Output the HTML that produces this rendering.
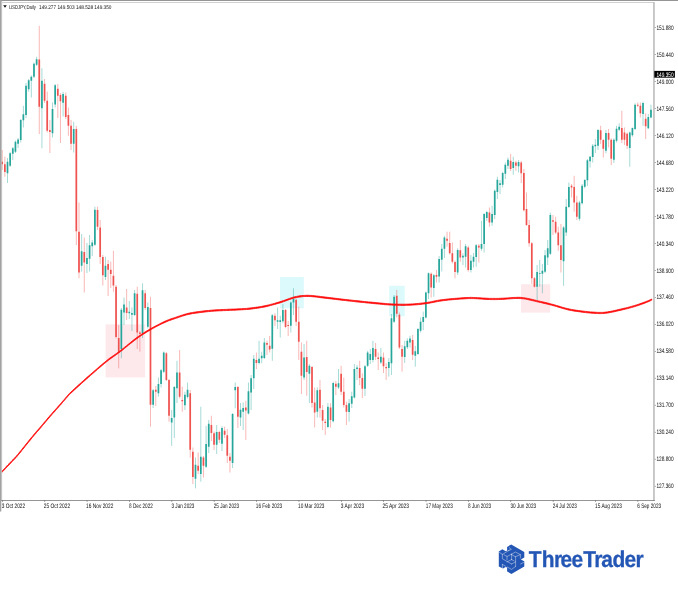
<!DOCTYPE html>
<html lang="en"><head><meta charset="utf-8"><title>USDJPY Daily - ThreeTrader</title>
<style>html,body{margin:0;padding:0;background:#fff}body{width:678px;height:600px;overflow:hidden;font-family:"Liberation Sans",sans-serif}svg{display:block}</style>
</head><body>
<svg width="678" height="600" viewBox="0 0 678 600" text-rendering="geometricPrecision">
<g id="zones">
<rect x="105.6" y="324.4" width="39.5" height="53" fill="#fde8ec"/>
<rect x="280" y="277" width="23.8" height="31.3" fill="#dcf9fc"/>
<rect x="389.2" y="285.8" width="15.5" height="30.5" fill="#dcf9fc"/>
<rect x="521" y="284.3" width="29.2" height="28.3" fill="#fde8ec"/>
</g>
<g id="candles" fill="none">
<path stroke="#26a69a" stroke-width="0.42" d="M7.50 158.0V183.0M10.14 152.0V167.0M12.79 147.0V160.0M15.44 140.5V153.0M18.09 138.0V148.0M20.74 119.0V142.5M23.38 105.8V127.5M26.03 83.0V118.0M28.68 79.0V91.7M31.33 75.5V97.5M33.98 62.5V78.0M36.62 56.7V66.0M41.92 68.3V148.3M52.51 102.5V137.5M55.16 84.0V107.5M63.10 91.7V116.5M73.70 121.7V152.5M81.64 234.0V271.7M86.94 243.0V273.0M89.58 235.0V271.5M92.23 240.0V256.0M94.88 206.7V246.0M105.47 256.7V280.0M121.36 308.0V358.3M124.01 297.5V325.0M129.30 301.0V319.0M131.95 307.5V331.0M134.60 290.0V316.0M142.54 283.3V338.0M147.84 302.5V328.5M153.14 389.0V408.0M158.43 377.5V396.7M161.08 369.0V387.5M163.73 351.5V373.0M171.67 410.0V445.8M174.32 386.0V438.0M176.97 360.8V403.0M184.91 391.7V410.0M187.56 382.5V398.5M195.50 457.5V488.3M200.80 406.7V481.7M206.10 425.8V468.0M208.74 420.0V453.0M216.69 425.0V454.0M221.98 426.3V451.0M232.58 413.0V468.0M235.22 382.5V408.3M240.52 403.0V426.0M243.17 402.5V430.0M248.46 382.5V414.5M251.11 375.0V410.0M253.76 355.0V389.0M259.06 340.8V364.5M261.70 351.7V363.3M264.35 338.0V359.0M272.30 314.0V360.8M277.59 307.5V329.0M280.24 315.8V337.5M282.89 304.0V323.3M290.83 301.5V332.5M293.48 288.3V315.0M304.07 344.0V380.0M309.37 364.0V403.0M317.31 387.5V417.5M327.90 403.0V428.3M333.20 381.7V422.5M338.50 369.0V389.0M349.09 399.0V421.7M351.74 391.7V408.0M354.38 364.0V398.5M357.03 365.0V380.0M364.98 365.0V396.0M367.62 350.8V367.0M370.27 349.0V364.0M372.92 340.8V362.5M380.86 348.0V364.0M388.81 358.0V376.7M391.46 314.0V375.0M394.10 295.0V323.0M404.70 340.8V363.0M407.34 338.3V349.0M409.99 335.8V347.5M415.29 345.8V366.7M417.94 328.0V355.0M420.58 317.5V332.5M423.23 311.7V330.0M425.88 291.5V318.5M428.53 272.5V299.0M433.82 274.0V296.7M439.12 256.0V282.5M441.77 244.0V271.5M444.42 235.8V258.0M457.66 248.3V275.0M462.95 253.3V265.0M465.60 244.0V267.5M470.90 255.0V272.5M473.54 253.0V267.5M476.19 244.0V266.7M481.49 220.8V250.8M484.14 213.0V252.5M486.78 210.8V220.8M492.08 205.8V225.8M494.73 189.5V219.0M497.38 176.7V199.0M500.02 180.0V194.0M502.67 171.7V187.5M505.32 162.5V179.0M507.97 157.5V169.0M513.26 156.7V174.7M518.56 160.0V172.5M537.10 265.0V300.0M539.74 260.0V286.7M542.39 264.0V293.3M545.04 250.0V273.0M547.69 240.0V265.0M550.34 212.5V255.0M563.58 226.0V285.8M566.22 199.0V236.0M568.87 182.5V208.0M579.46 200.8V220.8M582.11 184.0V204.5M584.76 179.0V188.3M587.41 159.0V186.0M590.06 155.8V167.5M592.70 144.0V162.5M595.35 139.0V153.0M598.00 129.0V150.0M605.94 130.0V153.3M613.89 138.3V163.0M616.54 125.8V142.5M619.18 123.3V131.0M629.78 131.5V166.7M632.42 127.5V136.7M635.07 103.3V130.0M643.02 101.7V125.8M648.31 114.0V129.2M650.96 104.7V118.3"/>
<path stroke="#ef5350" stroke-width="0.42" d="M2.20 150.0V170.0M4.85 156.7V176.7M39.27 25.8V134.0M44.57 79.0V103.0M47.22 91.7V132.5M49.86 120.0V153.0M57.81 84.0V118.0M60.46 93.0V143.0M65.75 92.5V119.0M68.40 107.5V135.8M71.05 120.0V150.0M76.34 125.8V245.0M78.99 202.5V278.3M84.29 237.5V292.5M97.53 206.7V230.0M100.18 220.0V264.0M102.82 255.0V285.5M108.12 260.0V296.0M110.77 261.7V288.0M113.42 250.8V291.7M116.06 285.0V338.5M118.71 325.0V368.3M126.66 289.0V320.0M137.25 286.7V349.0M139.90 331.0V351.7M145.19 290.0V310.0M150.49 296.7V426.7M155.78 386.0V406.0M166.38 352.0V381.0M169.02 379.0V421.7M179.62 350.0V398.5M182.26 386.7V411.7M190.21 390.0V457.5M192.86 447.5V484.0M198.15 452.5V474.0M203.45 456.0V477.5M211.39 415.8V441.0M214.04 431.5V450.0M219.34 430.8V443.0M224.63 426.7V438.0M227.28 429.0V463.0M229.93 453.0V472.5M237.87 386.0V428.0M245.82 400.8V440.0M256.41 352.5V369.0M267.00 340.8V355.0M269.65 336.0V352.5M274.94 313.3V326.0M285.54 309.0V328.3M288.18 321.0V336.0M296.13 298.5V326.0M298.78 306.7V360.0M301.42 342.5V394.0M306.72 340.8V395.8M312.02 366.0V407.5M314.66 387.5V427.5M319.96 380.0V417.5M322.61 405.0V430.0M325.26 419.0V435.0M330.55 403.3V427.5M335.85 381.0V395.0M341.14 365.8V395.0M343.79 377.5V407.5M346.44 401.7V425.0M359.68 360.8V385.0M362.33 373.3V398.0M375.57 343.0V360.0M378.22 352.5V370.0M383.51 352.5V373.0M386.16 363.3V380.0M396.75 290.0V317.5M399.40 312.5V349.0M402.05 345.0V371.7M412.64 335.0V360.0M431.18 272.5V297.5M436.47 270.0V282.5M447.06 231.7V246.7M449.71 231.7V254.5M452.36 242.5V263.5M455.01 260.5V278.3M460.30 240.0V261.7M468.25 245.8V271.7M478.84 244.0V262.5M489.43 207.5V226.7M510.62 154.0V171.0M515.91 160.8V170.8M521.21 160.8V183.0M523.86 169.0V211.5M526.50 192.5V226.0M529.15 220.0V246.7M531.80 242.0V284.0M534.45 277.0V287.5M552.98 215.0V235.0M555.63 216.7V234.0M558.28 226.7V250.8M560.93 224.0V272.5M571.52 184.0V197.5M574.17 175.8V211.7M576.82 195.8V220.0M600.65 125.8V144.0M603.30 139.0V157.5M608.59 129.0V147.5M611.24 138.3V165.0M621.83 110.8V143.0M624.48 127.5V145.0M627.13 132.5V149.0M637.72 102.5V107.0M640.37 102.5V117.5M645.66 113.3V139.0"/>
<path stroke="#26a69a" stroke-width="1.7" d="M7.50 161.7V173.3M10.14 153.3V165.8M12.79 148.3V153.7M15.44 141.7V151.7M18.09 139.5V143.7M20.74 120.0V140.0M23.38 114.2V120.3M26.03 85.8V115.0M28.68 80.3V89.2M31.33 76.7V80.8M33.98 63.7V76.7M36.62 59.2V64.7M41.92 80.8V108.3M52.51 109.0V133.3M55.16 85.3V104.5M63.10 94.0V102.8M73.70 129.0V143.7M81.64 251.3V265.8M86.94 258.0V264.0M89.58 245.3V258.7M92.23 242.5V246.3M94.88 209.7V244.7M105.47 265.8V277.0M121.36 309.7V349.0M124.01 304.5V312.5M129.30 311.7V313.3M131.95 313.0V314.7M134.60 293.3V315.0M142.54 290.3V333.3M147.84 307.0V326.7M153.14 390.3V404.7M158.43 384.0V393.3M161.08 370.3V384.0M163.73 352.5V371.7M171.67 418.0V422.5M174.32 387.0V417.5M176.97 372.5V388.3M184.91 394.7V405.3M187.56 389.7V397.0M195.50 464.7V478.7M200.80 456.7V474.0M206.10 444.0V466.7M208.74 423.7V446.7M216.69 432.0V444.7M221.98 428.0V443.7M232.58 414.0V463.0M235.22 387.0V390.3M240.52 409.7V417.5M243.17 408.0V411.7M248.46 391.3V413.5M251.11 378.3V392.5M253.76 358.7V378.3M259.06 358.7V363.0M261.70 355.8V358.3M264.35 342.5V358.0M272.30 315.3V348.8M277.59 320.3V321.7M280.24 320.3V322.0M282.89 310.0V321.3M290.83 302.5V325.8M293.48 299.0V302.5M304.07 357.5V377.5M309.37 365.8V373.7M317.31 390.3V411.7M327.90 406.7V427.0M333.20 383.0V421.3M338.50 383.3V387.5M349.09 403.3V412.0M351.74 396.3V403.7M354.38 369.0V397.5M357.03 367.5V369.0M364.98 366.3V388.7M367.62 352.5V365.8M370.27 354.0V360.0M372.92 348.0V360.0M380.86 356.7V362.5M388.81 362.0V368.0M391.46 318.3V363.3M394.10 296.7V321.7M404.70 346.3V357.0M407.34 340.8V347.3M409.99 338.5V342.5M415.29 351.3V355.8M417.94 329.0V354.0M420.58 321.7V330.8M423.23 317.0V322.0M425.88 292.5V317.5M428.53 273.3V293.3M433.82 275.3V288.0M439.12 259.0V276.5M441.77 248.7V259.7M444.42 237.5V248.7M457.66 250.0V272.5M462.95 255.8V257.5M465.60 246.3V256.7M470.90 260.8V270.0M473.54 256.7V261.7M476.19 245.3V257.0M481.49 244.0V248.7M484.14 214.0V244.0M486.78 212.0V218.0M492.08 214.0V222.5M494.73 190.8V215.0M497.38 179.7V192.0M500.02 183.3V185.0M502.67 173.0V184.7M505.32 164.7V173.7M507.97 159.7V165.8M513.26 162.0V168.0M518.56 162.0V166.3M537.10 272.0V286.7M539.74 273.0V273.8M542.39 270.8V273.7M545.04 255.3V271.7M547.69 248.3V257.5M550.34 215.0V253.7M563.58 227.5V261.3M566.22 206.7V232.5M568.87 187.0V207.0M579.46 202.5V218.7M582.11 185.8V203.3M584.76 180.0V186.7M587.41 160.3V180.3M590.06 156.7V161.3M592.70 145.8V157.0M595.35 144.7V146.3M598.00 130.0V145.8M605.94 133.0V150.8M613.89 139.7V159.7M616.54 128.7V140.8M619.18 126.7V129.7M629.78 132.5V148.0M632.42 128.0V135.3M635.07 104.7V129.0M643.02 103.0V114.0M648.31 117.0V128.3M650.96 109.7V117.5"/>
<path stroke="#ef5350" stroke-width="1.7" d="M2.20 161.7V164.2M4.85 164.2V172.0M39.27 59.5V106.7M44.57 83.8V100.8M47.22 100.8V130.8M49.86 130.0V132.0M57.81 88.7V95.8M60.46 95.0V101.3M65.75 95.8V117.0M68.40 115.0V125.8M71.05 125.8V143.7M76.34 129.0V231.3M78.99 231.7V272.5M84.29 252.0V262.5M97.53 210.0V226.7M100.18 227.5V257.0M102.82 257.0V275.3M108.12 264.0V269.7M110.77 269.7V274.0M113.42 275.8V285.5M116.06 286.7V337.0M118.71 338.0V351.7M126.66 307.5V313.0M137.25 293.7V332.5M139.90 332.5V334.0M145.19 293.3V308.0M150.49 308.0V404.7M155.78 389.7V391.7M166.38 353.3V380.0M169.02 380.0V415.8M179.62 372.5V396.7M182.26 400.0V401.3M190.21 393.3V449.7M192.86 451.7V477.0M198.15 465.8V470.8M203.45 457.5V465.8M211.39 425.0V433.0M214.04 433.3V444.7M219.34 432.0V439.7M224.63 430.8V434.7M227.28 435.3V455.8M229.93 456.7V460.8M237.87 387.0V416.7M245.82 407.5V410.5M256.41 360.0V363.0M267.00 343.0V344.8M269.65 345.8V349.5M274.94 315.8V320.3M285.54 310.0V327.0M288.18 325.0V326.0M296.13 299.7V321.7M298.78 321.7V341.7M301.42 351.7V375.8M306.72 357.0V372.0M312.02 367.0V403.0M314.66 402.5V412.5M319.96 389.7V408.3M322.61 410.0V420.8M325.26 421.7V423.0M330.55 407.5V420.0M335.85 383.7V386.7M341.14 373.7V391.7M343.79 391.7V405.0M346.44 405.0V411.7M359.68 368.0V378.0M362.33 378.0V388.7M375.57 349.0V356.7M378.22 357.5V359.0M383.51 357.5V366.3M386.16 367.0V368.3M396.75 295.8V313.7M399.40 314.7V347.5M402.05 349.0V356.7M412.64 340.0V354.7M431.18 273.7V287.5M436.47 275.0V276.7M447.06 238.7V240.8M449.71 243.0V253.3M452.36 253.3V261.7M455.01 262.0V272.0M460.30 250.3V257.5M468.25 247.5V270.0M478.84 245.8V247.5M489.43 212.5V222.5M510.62 160.8V169.0M515.91 162.5V165.8M521.21 162.5V173.3M523.86 173.0V210.3M526.50 209.0V225.0M529.15 225.0V243.3M531.80 243.3V278.2M534.45 278.2V286.7M552.98 220.3V221.8M555.63 221.7V232.5M558.28 232.5V245.3M560.93 245.3V260.0M571.52 185.8V187.5M574.17 187.0V202.5M576.82 202.5V216.7M600.65 130.3V139.7M603.30 140.0V148.7M608.59 133.0V139.7M611.24 139.7V158.7M621.83 128.0V139.7M624.48 132.5V139.7M627.13 133.7V145.8M637.72 104.7V105.8M640.37 105.8V113.3M645.66 118.7V126.3"/>
</g>
<path id="ma" d="M2.0 471.1 L2.6 470.5 L3.5 469.6 L4.5 468.5 L5.6 467.4 L6.7 466.1 L7.9 464.9 L9.0 463.8 L10.0 462.7 L10.9 461.8 L11.7 460.9 L12.5 460.1 L13.3 459.3 L14.1 458.5 L14.9 457.6 L15.8 456.7 L16.7 455.6 L17.7 454.5 L18.7 453.3 L19.7 452.0 L20.8 450.7 L21.8 449.4 L22.9 448.0 L24.0 446.7 L25.0 445.4 L26.0 444.1 L27.1 442.9 L28.1 441.6 L29.1 440.3 L30.2 439.0 L31.2 437.7 L32.3 436.5 L33.3 435.2 L34.3 434.0 L35.4 432.7 L36.4 431.5 L37.5 430.3 L38.6 429.1 L39.6 427.9 L40.7 426.6 L41.7 425.4 L42.7 424.2 L43.8 423.0 L44.8 421.7 L45.9 420.5 L46.9 419.3 L47.9 418.0 L49.0 416.8 L50.0 415.6 L51.1 414.4 L52.1 413.2 L53.2 412.0 L54.3 410.7 L55.4 409.5 L56.4 408.4 L57.4 407.3 L58.3 406.2 L59.1 405.3 L59.9 404.4 L60.7 403.5 L61.4 402.8 L62.0 402.0 L62.7 401.2 L63.4 400.4 L64.2 399.5 L64.9 398.7 L65.5 397.9 L66.1 397.2 L66.8 396.4 L67.5 395.6 L68.4 394.6 L69.4 393.5 L70.8 392.1 L72.5 390.5 L74.4 388.7 L76.6 386.7 L79.0 384.6 L81.4 382.4 L83.8 380.3 L86.2 378.1 L88.5 376.1 L90.7 374.2 L93.0 372.2 L95.3 370.2 L97.6 368.2 L99.8 366.2 L102.0 364.4 L104.2 362.6 L106.2 360.9 L108.1 359.4 L109.9 358.0 L111.7 356.8 L113.4 355.6 L115.1 354.4 L116.8 353.2 L118.5 351.9 L120.4 350.5 L122.4 349.0 L124.4 347.4 L126.5 345.7 L128.6 344.0 L130.7 342.3 L132.8 340.6 L134.8 339.0 L136.7 337.6 L138.5 336.3 L140.2 335.2 L141.8 334.0 L143.4 333.0 L145.0 332.0 L146.6 331.0 L148.3 330.0 L150.0 329.0 L151.8 328.0 L153.7 326.9 L155.6 325.9 L157.6 324.9 L159.5 323.9 L161.4 322.9 L163.3 322.0 L165.0 321.2 L166.6 320.5 L168.2 319.9 L169.6 319.3 L171.1 318.8 L172.5 318.3 L173.9 317.9 L175.3 317.4 L176.7 316.9 L178.2 316.4 L179.6 315.9 L181.1 315.4 L182.5 315.0 L183.9 314.5 L185.4 314.1 L186.8 313.7 L188.3 313.3 L189.7 313.0 L191.2 312.7 L192.6 312.5 L194.0 312.2 L195.5 312.0 L197.0 311.8 L198.5 311.6 L200.0 311.4 L201.6 311.2 L203.2 311.0 L204.9 310.8 L206.7 310.6 L208.4 310.5 L210.1 310.3 L211.7 310.2 L213.3 310.0 L214.8 309.9 L216.3 309.8 L217.8 309.7 L219.2 309.7 L220.7 309.6 L222.1 309.5 L223.5 309.5 L225.0 309.4 L226.5 309.4 L227.9 309.3 L229.3 309.2 L230.8 309.2 L232.2 309.1 L233.7 309.1 L235.2 309.0 L236.7 308.9 L238.3 308.8 L239.9 308.8 L241.5 308.7 L243.1 308.6 L244.8 308.5 L246.5 308.4 L248.2 308.2 L250.0 308.0 L251.8 307.8 L253.6 307.6 L255.5 307.3 L257.4 307.1 L259.3 306.8 L261.2 306.5 L263.1 306.1 L265.0 305.7 L266.9 305.3 L268.8 304.9 L270.6 304.4 L272.5 303.9 L274.4 303.4 L276.2 302.8 L278.1 302.3 L280.0 301.7 L281.9 301.1 L283.8 300.5 L285.7 299.8 L287.6 299.1 L289.5 298.4 L291.4 297.7 L293.2 297.2 L295.0 296.7 L296.7 296.4 L298.4 296.0 L300.0 295.8 L301.5 295.6 L303.1 295.5 L304.8 295.4 L306.5 295.3 L308.3 295.3 L310.2 295.4 L312.2 295.5 L314.3 295.7 L316.4 296.0 L318.6 296.2 L320.7 296.5 L322.9 296.8 L325.0 297.0 L327.1 297.3 L329.2 297.5 L331.3 297.8 L333.4 298.0 L335.5 298.3 L337.6 298.5 L339.6 298.8 L341.7 299.0 L343.8 299.3 L345.8 299.5 L347.8 299.7 L349.8 299.9 L351.9 300.2 L353.9 300.4 L355.9 300.6 L358.0 300.8 L360.1 301.0 L362.2 301.3 L364.3 301.5 L366.5 301.7 L368.6 301.9 L370.8 302.1 L372.9 302.3 L375.0 302.5 L377.1 302.7 L379.2 302.9 L381.3 303.1 L383.4 303.3 L385.5 303.5 L387.5 303.7 L389.6 303.8 L391.7 303.9 L393.8 304.0 L395.9 304.1 L397.9 304.2 L400.0 304.2 L402.1 304.2 L404.1 304.2 L406.2 304.2 L408.3 304.1 L410.4 304.0 L412.5 303.9 L414.6 303.8 L416.6 303.6 L418.7 303.4 L420.8 303.2 L422.9 303.0 L425.0 302.7 L427.1 302.4 L429.2 302.1 L431.3 301.7 L433.4 301.2 L435.4 300.8 L437.5 300.4 L439.6 300.0 L441.7 299.7 L443.8 299.5 L445.9 299.2 L448.1 299.0 L450.2 298.8 L452.3 298.6 L454.4 298.4 L456.4 298.3 L458.3 298.1 L460.1 298.0 L461.8 297.8 L463.4 297.7 L465.0 297.6 L466.6 297.5 L468.2 297.5 L469.9 297.4 L471.7 297.4 L473.6 297.5 L475.7 297.6 L477.8 297.7 L479.9 297.8 L482.0 298.0 L484.1 298.1 L486.1 298.2 L488.0 298.3 L489.7 298.4 L491.2 298.4 L492.6 298.4 L493.9 298.4 L495.3 298.4 L496.8 298.4 L498.5 298.4 L500.4 298.3 L502.6 298.2 L505.0 298.1 L507.6 297.9 L510.3 297.7 L513.1 297.5 L515.8 297.4 L518.4 297.3 L520.9 297.4 L523.3 297.7 L525.6 298.0 L527.8 298.4 L530.0 298.9 L532.2 299.4 L534.3 299.9 L536.4 300.5 L538.4 300.9 L540.4 301.4 L542.3 301.8 L544.1 302.2 L545.9 302.6 L547.7 303.1 L549.4 303.5 L551.2 304.0 L553.0 304.4 L554.8 304.9 L556.6 305.5 L558.5 306.0 L560.3 306.6 L562.1 307.2 L564.0 307.7 L565.8 308.2 L567.6 308.6 L569.4 309.0 L571.3 309.4 L573.2 309.7 L575.0 310.0 L576.9 310.3 L578.7 310.6 L580.5 310.8 L582.2 311.0 L583.9 311.2 L585.6 311.4 L587.2 311.6 L588.9 311.8 L590.4 311.9 L592.0 312.0 L593.5 312.1 L595.0 312.2 L596.4 312.3 L597.7 312.4 L599.0 312.4 L600.2 312.4 L601.4 312.4 L602.7 312.4 L604.1 312.3 L605.6 312.1 L607.2 311.9 L609.0 311.6 L610.8 311.3 L612.6 310.9 L614.5 310.5 L616.5 310.1 L618.3 309.6 L620.2 309.2 L622.0 308.8 L623.9 308.3 L625.8 307.9 L627.7 307.4 L629.5 306.9 L631.4 306.4 L633.1 305.9 L634.8 305.4 L636.4 304.9 L638.1 304.4 L639.7 303.8 L641.2 303.3 L642.7 302.7 L644.1 302.2 L645.4 301.8 L646.5 301.3 L647.5 300.9 L648.4 300.6 L649.2 300.2 L649.8 299.9 L650.4 299.6 L650.9 299.4 L651.3 299.2 L651.7 299.0 L651.7 300.2 L651.3 300.3 L650.9 300.5 L650.4 300.8 L649.8 301.1 L649.2 301.4 L648.4 301.7 L647.5 302.1 L646.5 302.5 L645.4 302.9 L644.1 303.4 L642.7 303.9 L641.2 304.4 L639.7 305.0 L638.1 305.5 L636.4 306.1 L634.8 306.6 L633.1 307.1 L631.4 307.6 L629.5 308.1 L627.7 308.6 L625.8 309.0 L623.9 309.5 L622.0 309.9 L620.2 310.4 L618.3 310.8 L616.5 311.2 L614.5 311.7 L612.6 312.1 L610.8 312.4 L609.0 312.8 L607.2 313.1 L605.6 313.3 L604.1 313.4 L602.7 313.5 L601.4 313.6 L600.2 313.6 L599.0 313.6 L597.7 313.5 L596.4 313.4 L595.0 313.4 L593.5 313.3 L592.0 313.2 L590.4 313.1 L588.9 312.9 L587.2 312.8 L585.6 312.6 L583.9 312.4 L582.2 312.2 L580.5 311.9 L578.7 311.7 L576.9 311.4 L575.0 311.2 L573.2 310.9 L571.3 310.5 L569.4 310.2 L567.6 309.8 L565.8 309.3 L564.0 308.8 L562.1 308.3 L560.3 307.7 L558.5 307.2 L556.6 306.6 L554.8 306.1 L553.0 305.6 L551.2 305.1 L549.4 304.7 L547.7 304.2 L545.9 303.8 L544.1 303.4 L542.3 302.9 L540.4 302.5 L538.4 302.1 L536.4 301.6 L534.3 301.1 L532.2 300.6 L530.0 300.1 L527.8 299.6 L525.6 299.1 L523.3 298.8 L520.9 298.6 L518.4 298.5 L515.8 298.5 L513.1 298.6 L510.3 298.8 L507.6 299.0 L505.0 299.2 L502.6 299.4 L500.4 299.5 L498.5 299.5 L496.8 299.6 L495.3 299.6 L493.9 299.6 L492.6 299.6 L491.2 299.6 L489.7 299.5 L488.0 299.5 L486.1 299.4 L484.1 299.3 L482.0 299.1 L479.9 299.0 L477.8 298.8 L475.7 298.7 L473.6 298.6 L471.7 298.6 L469.9 298.6 L468.2 298.6 L466.6 298.7 L465.0 298.8 L463.4 298.9 L461.8 299.0 L460.1 299.1 L458.3 299.3 L456.4 299.4 L454.4 299.6 L452.3 299.7 L450.2 299.9 L448.1 300.1 L445.9 300.4 L443.8 300.6 L441.7 300.9 L439.6 301.2 L437.5 301.6 L435.4 302.0 L433.4 302.4 L431.3 302.8 L429.2 303.2 L427.1 303.6 L425.0 303.9 L422.9 304.1 L420.8 304.4 L418.7 304.6 L416.6 304.8 L414.6 304.9 L412.5 305.1 L410.4 305.2 L408.3 305.3 L406.2 305.3 L404.1 305.4 L402.1 305.4 L400.0 305.3 L397.9 305.3 L395.9 305.2 L393.8 305.2 L391.7 305.1 L389.6 305.0 L387.5 304.8 L385.5 304.7 L383.4 304.5 L381.3 304.3 L379.2 304.1 L377.1 303.9 L375.0 303.7 L372.9 303.5 L370.8 303.3 L368.6 303.1 L366.5 302.9 L364.3 302.6 L362.2 302.4 L360.1 302.2 L358.0 302.0 L355.9 301.8 L353.9 301.5 L351.9 301.3 L349.8 301.1 L347.8 300.9 L345.8 300.6 L343.8 300.4 L341.7 300.2 L339.6 299.9 L337.6 299.7 L335.5 299.4 L333.4 299.2 L331.3 298.9 L329.2 298.7 L327.1 298.4 L325.0 298.2 L322.9 297.9 L320.7 297.7 L318.6 297.4 L316.4 297.1 L314.3 296.9 L312.2 296.7 L310.2 296.5 L308.3 296.5 L306.5 296.5 L304.8 296.5 L303.1 296.6 L301.5 296.8 L300.0 297.0 L298.4 297.2 L296.7 297.5 L295.0 297.9 L293.2 298.3 L291.4 298.9 L289.5 299.5 L287.6 300.2 L285.7 300.9 L283.8 301.6 L281.9 302.3 L280.0 302.9 L278.1 303.4 L276.2 304.0 L274.4 304.5 L272.5 305.0 L270.6 305.5 L268.8 306.0 L266.9 306.5 L265.0 306.9 L263.1 307.3 L261.2 307.6 L259.3 307.9 L257.4 308.2 L255.5 308.5 L253.6 308.7 L251.8 309.0 L250.0 309.2 L248.2 309.4 L246.5 309.5 L244.8 309.6 L243.1 309.7 L241.5 309.8 L239.9 309.9 L238.3 310.0 L236.7 310.1 L235.2 310.2 L233.7 310.2 L232.2 310.3 L230.8 310.3 L229.3 310.4 L227.9 310.5 L226.5 310.5 L225.0 310.6 L223.5 310.6 L222.1 310.7 L220.7 310.8 L219.2 310.8 L217.8 310.9 L216.3 311.0 L214.8 311.1 L213.3 311.2 L211.7 311.3 L210.1 311.5 L208.4 311.6 L206.7 311.8 L204.9 312.0 L203.2 312.2 L201.6 312.4 L200.0 312.6 L198.5 312.8 L197.0 313.0 L195.5 313.2 L194.0 313.4 L192.6 313.6 L191.2 313.9 L189.7 314.2 L188.3 314.5 L186.8 314.8 L185.4 315.2 L183.9 315.7 L182.5 316.1 L181.1 316.6 L179.6 317.1 L178.2 317.6 L176.7 318.1 L175.3 318.6 L173.9 319.0 L172.5 319.5 L171.1 320.0 L169.6 320.5 L168.2 321.0 L166.6 321.7 L165.0 322.4 L163.3 323.2 L161.4 324.1 L159.5 325.0 L157.6 326.0 L155.6 327.0 L153.7 328.1 L151.8 329.1 L150.0 330.2 L148.3 331.2 L146.6 332.2 L145.0 333.2 L143.4 334.2 L141.8 335.2 L140.2 336.3 L138.5 337.5 L136.7 338.8 L134.8 340.2 L132.8 341.8 L130.7 343.4 L128.6 345.1 L126.5 346.8 L124.4 348.5 L122.4 350.2 L120.4 351.7 L118.5 353.1 L116.8 354.3 L115.1 355.5 L113.4 356.7 L111.7 357.9 L109.9 359.2 L108.1 360.6 L106.2 362.1 L104.2 363.7 L102.0 365.5 L99.8 367.4 L97.6 369.3 L95.3 371.3 L93.0 373.3 L90.7 375.3 L88.5 377.3 L86.2 379.3 L83.8 381.4 L81.4 383.6 L79.0 385.8 L76.6 387.9 L74.4 389.9 L72.5 391.7 L70.8 393.3 L69.4 394.6 L68.4 395.7 L67.5 396.7 L66.8 397.6 L66.1 398.3 L65.5 399.1 L64.9 399.8 L64.2 400.7 L63.4 401.5 L62.7 402.3 L62.0 403.1 L61.4 403.9 L60.7 404.7 L59.9 405.5 L59.1 406.4 L58.3 407.4 L57.4 408.4 L56.4 409.5 L55.4 410.7 L54.3 411.9 L53.2 413.1 L52.1 414.3 L51.1 415.6 L50.0 416.8 L49.0 418.0 L47.9 419.2 L46.9 420.4 L45.9 421.6 L44.8 422.9 L43.8 424.1 L42.7 425.3 L41.7 426.6 L40.7 427.8 L39.6 429.0 L38.6 430.2 L37.5 431.4 L36.4 432.7 L35.4 433.9 L34.3 435.1 L33.3 436.4 L32.3 437.6 L31.2 438.9 L30.2 440.2 L29.1 441.5 L28.1 442.7 L27.1 444.0 L26.0 445.3 L25.0 446.6 L24.0 447.9 L22.9 449.2 L21.8 450.5 L20.8 451.9 L19.7 453.2 L18.7 454.4 L17.7 455.6 L16.7 456.8 L15.8 457.8 L14.9 458.7 L14.1 459.6 L13.3 460.4 L12.5 461.3 L11.7 462.1 L10.9 462.9 L10.0 463.9 L9.0 464.9 L7.9 466.1 L6.7 467.3 L5.6 468.5 L4.5 469.7 L3.5 470.7 L2.6 471.6 L2.0 472.3 Z" fill="#ff0a0a" stroke="#ff0a0a" stroke-width="0.8" stroke-linejoin="round"/>
<g id="frame">
<rect x="0" y="0" width="678" height="0.9" fill="#8a8a8a"/>
<rect x="0" y="0" width="1.3" height="511.5" fill="#a2a2a2"/>
<rect x="1.3" y="1" width="0.8" height="499.5" fill="#b6b6b6"/>
<rect x="2.1" y="2.1" width="652" height="0.75" fill="#c0c0c0"/>
<rect x="653.1" y="2.1" width="1.7" height="498.7" fill="#c0c0c0"/>
<rect x="1.3" y="500" width="653.5" height="0.65" fill="#5c5c5c"/>
</g>
<g id="yaxis" font-family="'Liberation Sans', sans-serif" font-size="6.4" fill="#111">
<rect x="654.8" y="27.2" width="1" height="0.6" fill="#555"/>
<text x="656.4" y="29.6" textLength="17.2" lengthAdjust="spacingAndGlyphs">151.880</text>
<rect x="654.8" y="54.2" width="1" height="0.6" fill="#555"/>
<text x="656.4" y="56.6" textLength="17.2" lengthAdjust="spacingAndGlyphs">150.440</text>
<rect x="654.8" y="81.2" width="1" height="0.6" fill="#555"/>
<text x="656.4" y="83.6" textLength="17.2" lengthAdjust="spacingAndGlyphs">149.000</text>
<rect x="654.8" y="108.1" width="1" height="0.6" fill="#555"/>
<text x="656.4" y="110.6" textLength="17.2" lengthAdjust="spacingAndGlyphs">147.560</text>
<rect x="654.8" y="135.1" width="1" height="0.6" fill="#555"/>
<text x="656.4" y="137.6" textLength="17.2" lengthAdjust="spacingAndGlyphs">146.120</text>
<rect x="654.8" y="162.1" width="1" height="0.6" fill="#555"/>
<text x="656.4" y="164.6" textLength="17.2" lengthAdjust="spacingAndGlyphs">144.680</text>
<rect x="654.8" y="189.1" width="1" height="0.6" fill="#555"/>
<text x="656.4" y="191.5" textLength="17.2" lengthAdjust="spacingAndGlyphs">143.220</text>
<rect x="654.8" y="216.1" width="1" height="0.6" fill="#555"/>
<text x="656.4" y="218.5" textLength="17.2" lengthAdjust="spacingAndGlyphs">141.780</text>
<rect x="654.8" y="243.0" width="1" height="0.6" fill="#555"/>
<text x="656.4" y="245.5" textLength="17.2" lengthAdjust="spacingAndGlyphs">140.340</text>
<rect x="654.8" y="270.0" width="1" height="0.6" fill="#555"/>
<text x="656.4" y="272.5" textLength="17.2" lengthAdjust="spacingAndGlyphs">138.900</text>
<rect x="654.8" y="297.0" width="1" height="0.6" fill="#555"/>
<text x="656.4" y="299.4" textLength="17.2" lengthAdjust="spacingAndGlyphs">137.460</text>
<rect x="654.8" y="324.0" width="1" height="0.6" fill="#555"/>
<text x="656.4" y="326.4" textLength="17.2" lengthAdjust="spacingAndGlyphs">136.020</text>
<rect x="654.8" y="351.0" width="1" height="0.6" fill="#555"/>
<text x="656.4" y="353.4" textLength="17.2" lengthAdjust="spacingAndGlyphs">134.580</text>
<rect x="654.8" y="377.9" width="1" height="0.6" fill="#555"/>
<text x="656.4" y="380.4" textLength="17.2" lengthAdjust="spacingAndGlyphs">133.140</text>
<rect x="654.8" y="404.9" width="1" height="0.6" fill="#555"/>
<text x="656.4" y="407.4" textLength="17.2" lengthAdjust="spacingAndGlyphs">131.700</text>
<rect x="654.8" y="431.9" width="1" height="0.6" fill="#555"/>
<text x="656.4" y="434.3" textLength="17.2" lengthAdjust="spacingAndGlyphs">130.240</text>
<rect x="654.8" y="458.9" width="1" height="0.6" fill="#555"/>
<text x="656.4" y="461.3" textLength="17.2" lengthAdjust="spacingAndGlyphs">128.800</text>
<rect x="654.8" y="485.9" width="1" height="0.6" fill="#555"/>
<text x="656.4" y="488.3" textLength="17.2" lengthAdjust="spacingAndGlyphs">127.360</text>
<rect x="654.3" y="70.9" width="20.6" height="6.8" fill="#000"/>
<text x="656.4" y="76.5" textLength="17.2" lengthAdjust="spacingAndGlyphs" fill="#fff">149.350</text>
</g>
<g id="xaxis" font-family="'Liberation Sans', sans-serif" font-size="6.5" fill="#111">
<rect x="2.0" y="500.5" width="0.7" height="1.2" fill="#555"/>
<text x="1.8" y="507.6" textLength="23.3" lengthAdjust="spacingAndGlyphs">3 Oct 2022</text>
<rect x="44.4" y="500.5" width="0.7" height="1.2" fill="#555"/>
<text x="43.8" y="507.6" textLength="26.3" lengthAdjust="spacingAndGlyphs">25 Oct 2022</text>
<rect x="86.7" y="500.5" width="0.7" height="1.2" fill="#555"/>
<text x="86.1" y="507.6" textLength="27.3" lengthAdjust="spacingAndGlyphs">16 Nov 2022</text>
<rect x="129.1" y="500.5" width="0.7" height="1.2" fill="#555"/>
<text x="129.1" y="507.6" textLength="23.7" lengthAdjust="spacingAndGlyphs">8 Dec 2022</text>
<rect x="171.5" y="500.5" width="0.7" height="1.2" fill="#555"/>
<text x="171.5" y="507.6" textLength="22.9" lengthAdjust="spacingAndGlyphs">3 Jan 2023</text>
<rect x="213.8" y="500.5" width="0.7" height="1.2" fill="#555"/>
<text x="213.8" y="507.6" textLength="25.3" lengthAdjust="spacingAndGlyphs">25 Jan 2023</text>
<rect x="256.2" y="500.5" width="0.7" height="1.2" fill="#555"/>
<text x="255.8" y="507.6" textLength="26.3" lengthAdjust="spacingAndGlyphs">16 Feb 2023</text>
<rect x="298.6" y="500.5" width="0.7" height="1.2" fill="#555"/>
<text x="298.1" y="507.6" textLength="26.3" lengthAdjust="spacingAndGlyphs">10 Mar 2023</text>
<rect x="341.0" y="500.5" width="0.7" height="1.2" fill="#555"/>
<text x="340.8" y="507.6" textLength="23.3" lengthAdjust="spacingAndGlyphs">3 Apr 2023</text>
<rect x="383.3" y="500.5" width="0.7" height="1.2" fill="#555"/>
<text x="382.5" y="507.6" textLength="26.6" lengthAdjust="spacingAndGlyphs">25 Apr 2023</text>
<rect x="425.7" y="500.5" width="0.7" height="1.2" fill="#555"/>
<text x="425.8" y="507.6" textLength="27.0" lengthAdjust="spacingAndGlyphs">17 May 2023</text>
<rect x="468.1" y="500.5" width="0.7" height="1.2" fill="#555"/>
<text x="468.1" y="507.6" textLength="23.0" lengthAdjust="spacingAndGlyphs">8 Jun 2023</text>
<rect x="510.4" y="500.5" width="0.7" height="1.2" fill="#555"/>
<text x="510.5" y="507.6" textLength="25.6" lengthAdjust="spacingAndGlyphs">30 Jun 2023</text>
<rect x="552.8" y="500.5" width="0.7" height="1.2" fill="#555"/>
<text x="552.8" y="507.6" textLength="24.0" lengthAdjust="spacingAndGlyphs">24 Jul 2023</text>
<rect x="595.2" y="500.5" width="0.7" height="1.2" fill="#555"/>
<text x="595.1" y="507.6" textLength="26.7" lengthAdjust="spacingAndGlyphs">15 Aug 2023</text>
<rect x="637.5" y="500.5" width="0.7" height="1.2" fill="#555"/>
<text x="637.3" y="507.6" textLength="23.8" lengthAdjust="spacingAndGlyphs">6 Sep 2023</text>
</g>
<g id="title" font-family="'Liberation Sans', sans-serif" font-size="5.5" fill="#111">
<path d="M3.2 5.3H6.8L5 7.7Z" fill="#111"/>
<text x="9" y="8.6" textLength="27" lengthAdjust="spacingAndGlyphs">USDJPY,Daily</text>
<text x="39" y="8.6" textLength="72.5" lengthAdjust="spacingAndGlyphs">149.277 149.503 148.528 149.350</text>
</g>
<g id="logo">
<path d="M511.2 544.5L524.3 552.1V557.6L520.8 559.5L524.3 561.3V566.5L511.4 573.9L507.1 571.5V567.6L505.6 567L503 568.5L498.8 566.5V551.4L502.3 549.3L505.8 551.3L507.1 550.6V546.9Z" fill="#2457b5"/>
<g fill="none" stroke="#fff" stroke-opacity="0.8" stroke-width="0.5" stroke-linecap="round" stroke-linejoin="round">
<path d="M499.4 552.4L502.4 554.4L509.2 550.2M502.4 554.4V558.8L511.6 564M504 554.7L507 556.5L511.6 554.1M507 556.5V559.6M511.6 554.1V559.6M511.6 554.2L515.4 552L520.4 554.6L515.6 556.6ZM515.6 556.6V566.4M520.4 554.6V558M511.6 559.6L507 561.8M511.6 559.6L514 560.8M511.6 564L515.6 561.8M507.2 567L511.6 569.4L515.6 566.4M502.4 564.4V568M502.4 564.4L505.5 566.2M509.2 547.6L511.4 549.4L508 550.8M520.6 564L524 562.2"/>
</g>
<text transform="scale(0.92,1)" x="574.61 588.82 602.05 609.32 621.16 633.96 645.91 653.41 665.87 678.72 690.67" y="566.8" font-family="'Liberation Sans', sans-serif" font-weight="bold" font-size="22.8" fill="#2457b5" stroke="#2457b5" stroke-width="0.3">ThreeTrader</text>
</g>
</svg>
</body></html>
